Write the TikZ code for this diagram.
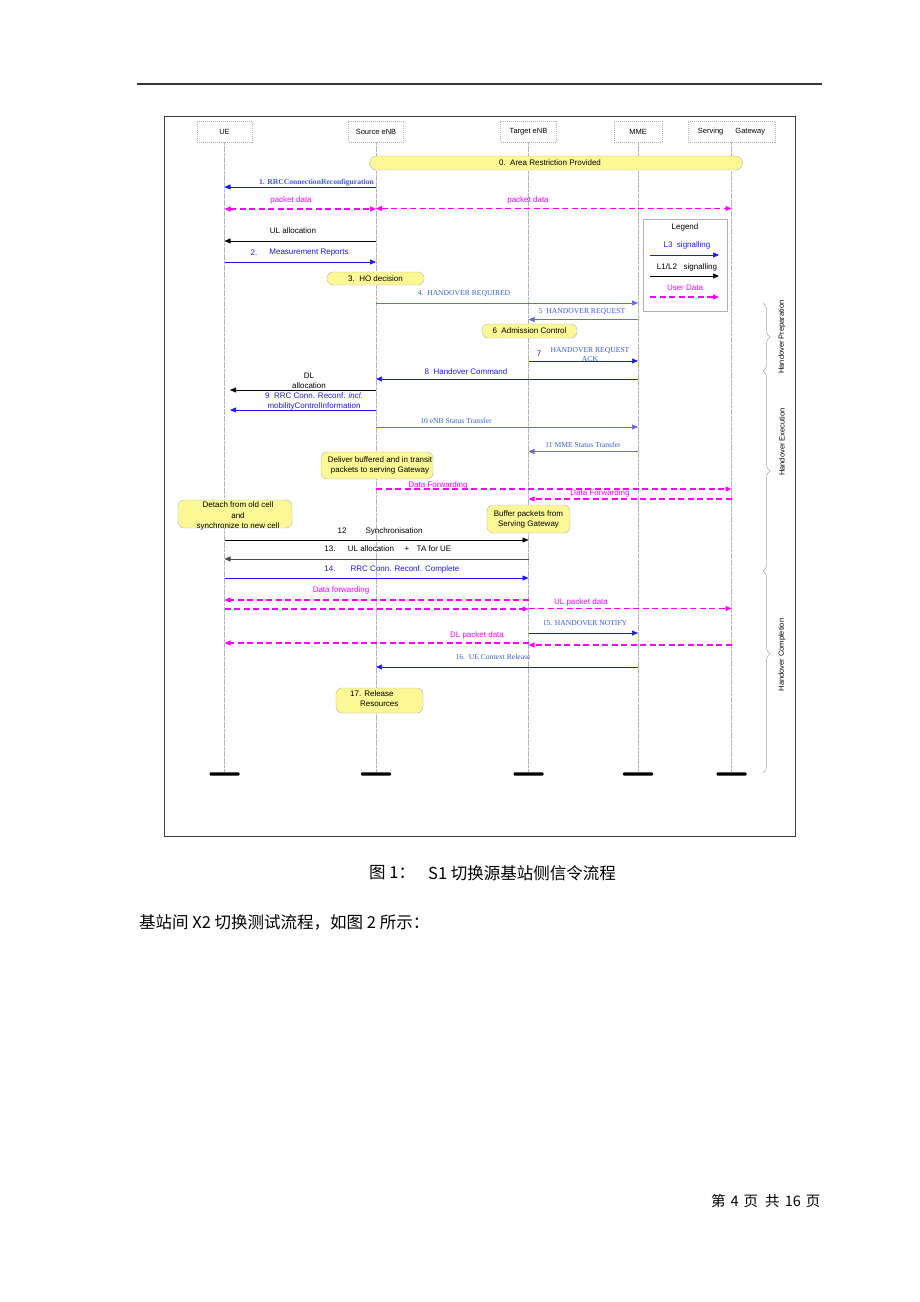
\documentclass[tikz,border=0pt]{standalone}
\usepackage{fontspec}
\setmainfont{Liberation Sans}
\newfontfamily\lsans{Liberation Sans}
\newfontfamily\tnr{Liberation Serif}
\newfontfamily\cjk{Noto Sans CJK SC}
\usetikzlibrary{arrows.meta,decorations.pathreplacing}
\definecolor{sigblue}{RGB}{25,25,245}
\definecolor{lblue}{RGB}{60,90,225}
\definecolor{sigpale}{RGB}{100,100,250}
\definecolor{magd}{RGB}{255,0,255}
\definecolor{yfill}{RGB}{252,248,150}
\definecolor{lifegray}{RGB}{180,180,180}
\tikzset{
  sl/.style={font=\lsans\fontsize{8}{10}\selectfont, inner sep=0pt},
  srl/.style={font=\tnr\fontsize{7.6}{9}\selectfont, text=lblue, inner sep=0pt},
  hdr/.style={draw=lifegray, dash pattern=on 1pt off 1pt, minimum height=21pt, inner sep=0pt, font=\lsans\fontsize{7.5}{9}\selectfont},
  life/.style={draw=lifegray, line width=0.5pt, dash pattern=on 3pt off 0.6pt},
  sigarr/.style={draw=sigblue, line width=0.7pt, -{Triangle[length=6pt,width=5pt]}},
  blk/.style={draw=black, line width=0.7pt, -{Triangle[length=6pt,width=5pt]}},
  dat/.style={draw=magd, line width=1.1pt, dash pattern=on 6pt off 3.5pt, -{Triangle[length=6pt,width=5pt]}},
  datb/.style={dat, {Triangle[length=6pt,width=5pt]}-{Triangle[length=6pt,width=5pt]}},
  ybox/.style={draw=gray!60, fill=yfill, rounded corners=6pt, inner sep=0pt, font=\lsans\fontsize{8}{10}\selectfont},
  endbar/.style={fill=black, minimum width=30pt, minimum height=3.2pt, inner sep=0pt, rounded corners=1pt},
  brc/.style={draw=gray!70, line width=0.5pt, decorate, decoration={brace, amplitude=7pt}},
  bracelbl/.style={font=\lsans\fontsize{7.5}{9}\selectfont, inner sep=0pt, rotate=90},
  cjkt/.style={font=\cjk\fontsize{16.5}{18}\selectfont, inner sep=0pt, anchor=west}
}
\begin{document}
\begin{tikzpicture}[x=1pt,y=-1pt]
\useasboundingbox (0,0) rectangle (920,1302);

% page header rule and frame
\draw[line width=1.3pt, black!80] (137,84) -- (822,84);
\draw[line width=0.9pt, black!75] (164.5,116) rectangle (795.5,836);

% lifeline heads
\node[hdr, minimum width=55pt] (ue) at (224.5,131.5) {UE};
\node[hdr, minimum width=55pt] (se) at (376,131.5) {Source eNB};
\node[hdr, minimum width=56pt] (te) at (528.5,131.5) {Target eNB};
\node[hdr, minimum width=48pt] (mme) at (638,131.5) {MME};
\node[hdr, minimum width=87pt] (sgw) at (731.5,131.5) {Serving\hspace{12pt}Gateway};

% end bars
\node[endbar] (ueb) at (ue |- 0,774) {};
\node[endbar] (seb) at (se |- 0,774) {};
\node[endbar] (teb) at (te |- 0,774) {};
\node[endbar] (mmeb) at (mme |- 0,774) {};
\node[endbar] (sgwb) at (sgw |- 0,774) {};

% lifelines
\draw[life] (ue.south) -- (ueb.north);
\draw[life] (se.south) -- (seb.north);
\draw[life] (te.south) -- (teb.north);
\draw[life] (mme.south) -- (mmeb.north);
\draw[life] (sgw.south) -- (sgwb.north);

% 0
\node[ybox, rounded corners=7pt, minimum width=373pt, minimum height=14pt] (ar) at (556,163) {\hspace{-12pt}0.\ \ Area Restriction Provided};

% 1
\draw[sigarr] (se |- 0,187) -- (ue |- 0,187);
\node[font=\tnr\bfseries\fontsize{7.6}{9}\selectfont, text=lblue, anchor=east, inner sep=0pt] (m1) at (374,183) {1. RRCConnectionReconfiguration};

% packet data
\draw[datb] (ue |- 0,209) -- (se |- 0,209);
\draw[datb] (se |- 0,208.5) -- (sgw |- 0,208.5);
\node[sl, text=magd] (pd1) at (291,200) {packet data};
\node[sl, text=magd] (pd2) at (528,200) {packet data};

% UL allocation
\draw[blk] (se |- 0,241) -- (ue |- 0,241);
\node[sl] (ula) at (293,231) {UL allocation};

% 2
\draw[sigarr] (ue |- 0,262) -- (se |- 0,262);
\node[sl, text=sigblue] (m2n) at (254,253) {2.};
\node[sl, text=sigblue] (m2) at (309,253) {Measurement Reports};

% 3
\node[ybox, minimum width=97pt, minimum height=13pt] (hod) at (375.5,278.5) {3.\ \ HO decision};

% 4
\draw[sigarr, draw=sigpale] (se |- 0,303) -- (mme |- 0,303);
\node[srl] (m4) at (464,294) {4.\ \ HANDOVER REQUIRED};

% 5
\draw[sigarr, draw=sigpale] (mme |- 0,319.5) -- (te |- 0,319.5);
\node[srl] (m5) at (582,312) {5\ \ HANDOVER REQUEST};

% 6
\node[ybox, minimum width=95pt, minimum height=14pt] (adm) at (529.5,331) {6\ \ Admission Control};

% 7
\draw[sigarr] (te |- 0,361) -- (mme |- 0,361);
\node[sl, text=sigblue] (m7n) at (539,354) {7};
\node[srl, align=center, font=\tnr\fontsize{7.6}{9.5}\selectfont] (m7) at (590,354.5) {HANDOVER REQUEST\\ACK};

% 8
\draw[sigarr] (mme |- 0,379) -- (se |- 0,379);
\node[sl, text=sigblue] (m8) at (466,372) {8\ \ Handover Command};

% DL allocation
\coordinate (dlend) at (230,390);
\draw[blk, line width=0.6pt] (se |- 0,390) -- (dlend);
\node[sl, align=center] (dl) at (309,381) {DL\\allocation};

% 9
\coordinate (rrcend) at (230,410);
\draw[sigarr] (se |- 0,410) -- (rrcend);
\node[sl, align=center, text=sigblue] (m9) at (314,401) {9\ \ RRC Conn. Reconf. \textit{incl.}\\mobilityControlInformation};

% 10
\draw[sigarr, draw=sigpale] (se |- 0,427) -- (mme |- 0,427);
\node[srl] (m10) at (456,421) {10 eNB Status Transfer};

% 11
\draw[sigarr, draw=sigpale] (mme |- 0,451.5) -- (te |- 0,451.5);
\node[srl] (m11) at (583,445) {11 MME Status Transfer};

% deliver box
\node[ybox, minimum width=112pt, minimum height=27pt, align=center] (dlv) at (377,465.5) {\hspace{6pt}Deliver buffered and in transit\\\hspace{6pt}packets to serving Gateway};

% data forwarding
\draw[dat] (se |- 0,489) -- (sgw |- 0,489);
\node[sl, text=magd] (df1) at (438,485) {Data Forwarding};
\draw[dat] (sgw |- 0,499) -- (te |- 0,499);
\node[sl, text=magd] (df2) at (600,493) {Data Forwarding};

% detach box
\node[ybox, minimum width=114pt, minimum height=28pt] (det) at (235,514) {};
\node[sl, align=center, font=\lsans\fontsize{8}{10.8}\selectfont] (dett) at (238,516) {Detach from old cell\\and\\synchronize to new cell};

% buffer box
\node[ybox, minimum width=83pt, minimum height=28pt, align=center] (buf) at (528.5,519) {Buffer packets from\\Serving Gateway};

% 12
\draw[blk] (ue |- 0,540) -- (te |- 0,540);
\node[sl] (m12n) at (342,531) {12};
\node[sl] (m12) at (394,531) {Synchronisation};

% 13
\draw[blk, draw=black!70] (te |- 0,559) -- (ue |- 0,559);
\node[sl] (m13n) at (330,549) {13.};
\node[sl] (m13a) at (371,549) {UL allocation};
\node[sl] (m13b) at (407,549) {+};
\node[sl] (m13c) at (434,549) {TA for UE};

% 14
\draw[sigarr] (ue |- 0,578) -- (te |- 0,578);
\node[sl, text=sigblue] (m14n) at (330,569) {14.};
\node[sl, text=sigblue] (m14) at (405,569) {RRC Conn. Reconf. Complete};

% Data forwarding to UE
\draw[dat] (te |- 0,600) -- (ue |- 0,600);
\node[sl, text=magd] (df3) at (341,590) {Data forwarding};

% UL packet data
\draw[dat] (ue |- 0,609) -- (te |- 0,609);
\draw[dat] (te |- 0,608.5) -- (sgw |- 0,608.5);
\node[sl, text=magd] (ulp) at (581,602) {UL packet data};

% 15
\draw[sigarr] (te |- 0,633) -- (mme |- 0,633);
\node[srl] (m15) at (585,623) {15. HANDOVER NOTIFY};

% DL packet data
\draw[dat] (sgw |- 0,645) -- (te |- 0,645);
\draw[dat] (te |- 0,643) -- (ue |- 0,643);
\node[sl, text=magd] (dlp) at (477,635) {DL packet data};

% 16
\draw[sigarr] (mme |- 0,667) -- (se |- 0,667);
\node[srl] (m16) at (493,657) {16.\ \ UE Context Release};

% 17
\node[ybox, minimum width=87pt, minimum height=25pt] (rel) at (379.5,700.5) {};
\node[sl, align=left, anchor=west] (relt) at (350,699) {17. Release\\\hspace{10pt}Resources};

% legend
\node[draw=gray!60, minimum width=84pt, minimum height=92pt, inner sep=0pt] (leg) at (685,265) {};
\node[sl] (legt) at (685,227) {Legend};
\node[sl, text=sigblue] (legl3) at (687,245) {L3\ \ signalling};
\coordinate (l3a) at (650,255);
\coordinate (l3b) at (719,255);
\draw[sigarr, dash pattern=on 1.5pt off 0.5pt] (l3a) -- (l3b);
\node[sl] (legl12) at (687,267) {L1/L2\ \ \ signalling};
\coordinate (l12a) at (650,276);
\coordinate (l12b) at (719,276);
\draw[blk] (l12a) -- (l12b);
\node[sl, text=magd] (legud) at (685,288) {User Data};
\coordinate (uda) at (650,297);
\coordinate (udb) at (719,297);
\draw[dat] (uda) -- (udb);

% braces
\coordinate (bp1) at (763,303);
\coordinate (bp2) at (763,371);
\coordinate (be2) at (763,571);
\coordinate (bc2) at (763,773);
\draw[brc] (bp1) -- (bp2);
\draw[brc] (bp2) -- (be2);
\draw[brc, decoration={brace, amplitude=7pt, aspect=0.41}] (be2) -- (bc2);
\node[bracelbl] (hp) at (782,337) {Handover Preparation};
\node[bracelbl] (he) at (782,442) {Handover Execution};
\node[bracelbl] (hc) at (782,655) {Handover Completion};

% caption and body text
\node[cjkt] (cap1) at (369,873) {图 1：};
\node[cjkt] (cap2) at (428,873) {S1 切换源基站侧信令流程};
\node[cjkt] (body) at (139,922) {基站间 X2 切换测试流程，如图 2 所示：};
\node[cjkt, font=\cjk\fontsize{14.5}{16}\selectfont] (foot) at (711,1201) {第\hspace{5pt}4\hspace{5pt}页\hspace{7pt}共\hspace{5pt}16\hspace{5pt}页};
\end{tikzpicture}
\end{document}
